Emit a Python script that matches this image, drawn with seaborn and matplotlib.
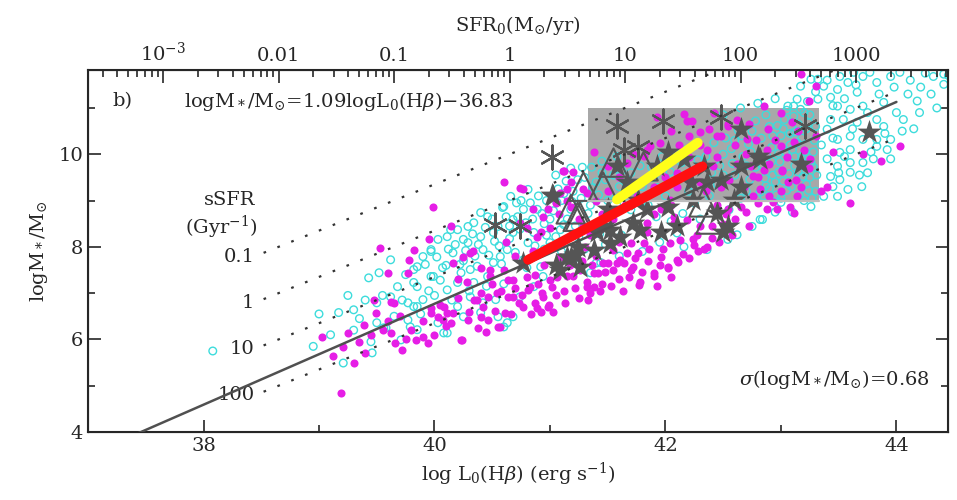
import numpy as np
import pandas as pd
import matplotlib.pyplot as plt
import matplotlib.ticker as mticker
from matplotlib.patches import Rectangle
import seaborn as sns

sns.set_style("ticks")
plt.rcParams["font.family"] = ["DejaVu Serif"]
plt.rcParams["mathtext.fontset"] = "dejavuserif"

# ---- data: (log L0(Hb), log M*) ----
magenta_pts = [
    (39.19, 4.84), (39.03, 6.06), (39.21, 5.84), (39.30, 5.49), (39.25, 6.14), (39.39, 6.32),
    (39.49, 6.58), (39.53, 7.98), (39.60, 7.44), (39.65, 6.79), (39.62, 6.14), (39.66, 5.93),
    (39.72, 5.77), (39.82, 7.94), (39.77, 7.44), (39.84, 5.99), (39.94, 5.93), (39.99, 8.85),
    (39.97, 6.58), (40.03, 6.49), (40.08, 6.71), (40.14, 6.36), (40.16, 6.58), (40.23, 5.99),
    (40.14, 8.44), (40.25, 7.79), (40.31, 7.87), (40.34, 6.86), (40.40, 6.49), (40.46, 6.92),
    (40.48, 7.36), (40.55, 6.27), (40.60, 9.39), (40.64, 6.92), (40.68, 7.29), (40.73, 6.79),
    (40.77, 9.24), (40.81, 7.07), (40.87, 6.79), (40.89, 8.22), (40.94, 8.65), (40.98, 6.71),
    (41.00, 7.29), (41.12, 9.63), (41.15, 9.24), (39.62, 6.81), (39.78, 7.72), (39.95, 8.16),
    (39.97, 6.68), (40.07, 6.42), (40.11, 6.58), (40.16, 7.66), (40.24, 5.99), (40.29, 6.42),
    (40.33, 7.90), (40.37, 6.86), (40.42, 6.71), (40.46, 6.42), (40.48, 7.51), (40.54, 7.01),
    (40.57, 6.27), (40.61, 6.58), (40.64, 7.29), (40.68, 6.92), (40.74, 8.52), (40.77, 6.71),
    (40.83, 7.14), (40.87, 7.40), (40.89, 6.68), (40.94, 6.92), (40.98, 8.81), (40.99, 6.75),
    (41.02, 7.14), (41.09, 7.79), (41.15, 7.36), (41.26, 7.51), (41.32, 7.23), (41.38, 7.14),
    (41.42, 7.44), (41.50, 7.66), (41.55, 7.94), (41.61, 7.72), (41.67, 7.87), (41.72, 7.57),
    (41.77, 7.18), (41.81, 8.09), (41.90, 7.36), (41.96, 7.79), (42.02, 7.55), (42.04, 8.09),
    (42.10, 7.72), (42.07, 8.52), (41.84, 8.52), (42.16, 10.86), (42.23, 10.71), (41.93, 10.80),
    (42.30, 10.47), (42.45, 10.39), (42.54, 10.65), (42.72, 10.65), (42.71, 10.32), (42.89, 10.54),
    (43.10, 10.69), (42.85, 9.67), (43.01, 9.67), (43.13, 9.45), (43.14, 9.09), (43.08, 8.87),
    (42.97, 8.81), (42.88, 8.81), (42.76, 9.09), (42.68, 9.30), (42.76, 9.52), (42.59, 9.02),
    (42.54, 8.81), (42.48, 9.30), (42.41, 9.74), (42.36, 10.10), (42.45, 9.93), (42.19, 9.52),
    (42.10, 9.30), (42.04, 9.02), (41.96, 8.81), (42.07, 8.65), (42.19, 8.59), (42.30, 8.44),
    (42.24, 8.16), (42.36, 8.00), (42.28, 7.90), (42.11, 7.68), (42.02, 7.57), (41.90, 7.44),
    (41.78, 7.23), (41.76, 7.87), (41.70, 8.09), (41.64, 7.66), (41.55, 7.51), (41.46, 7.66),
    (41.38, 7.44), (41.32, 7.14), (41.20, 7.36), (41.84, 8.31), (41.87, 10.17), (41.81, 9.96),
    (41.67, 9.82), (41.38, 10.04), (41.20, 9.61), (41.29, 9.24), (42.88, 10.10), (43.00, 10.17),
    (43.11, 10.26), (43.11, 8.74), (43.17, 9.30), (43.17, 11.73), (43.30, 11.47), (43.24, 11.14),
    (43.45, 10.04), (43.40, 9.30), (43.71, 10.00), (44.03, 10.17), (42.93, 8.96), (43.24, 9.71),
    (43.19, 9.78), (43.01, 9.63), (43.06, 9.39), (42.80, 9.50), (42.74, 9.74), (42.48, 10.39),
    (42.54, 10.60), (42.42, 10.90), (42.19, 10.71), (40.74, 9.28), (41.11, 9.63), (41.18, 9.39),
    (41.09, 9.17), (40.85, 8.81), (40.92, 8.31), (41.18, 8.87), (41.29, 8.44), (41.32, 9.17),
    (41.84, 10.10), (41.05, 6.95), (41.12, 7.05), (41.25, 6.90), (41.35, 7.00), (41.45, 7.20),
    (41.60, 7.30), (41.70, 7.50), (41.85, 7.70), (41.95, 7.60), (42.15, 7.85), (42.25, 8.05),
    (42.40, 8.20), (42.50, 8.50), (42.60, 8.60), (42.70, 8.75), (42.80, 8.95), (42.90, 9.10),
    (43.00, 9.20), (41.10, 8.10), (41.20, 8.30), (41.30, 8.00), (41.40, 7.80), (41.55, 8.60),
    (41.65, 8.90), (41.75, 9.10), (41.90, 9.30), (42.00, 9.50), (42.10, 9.60), (42.20, 9.95),
    (42.30, 10.20), (42.35, 9.20), (42.45, 8.90), (42.55, 9.45), (42.62, 9.80), (42.70, 10.00),
    (42.78, 10.30), (40.95, 7.60), (40.85, 7.90), (40.70, 7.80), (40.60, 7.50), (40.50, 7.20),
    (40.40, 7.00), (40.30, 6.60), (40.20, 6.90), (40.10, 6.30), (40.00, 6.10), (39.90, 6.40),
    (39.80, 6.20), (39.70, 6.50), (39.60, 6.40), (39.45, 6.10), (39.35, 5.95), (41.00, 8.40),
    (41.08, 8.70), (41.15, 9.00), (41.25, 8.60), (41.40, 9.00), (41.50, 9.20), (41.60, 9.50),
    (42.05, 10.50), (42.20, 10.40), (42.60, 10.20), (42.90, 9.80), (43.05, 9.95), (43.20, 10.10),
    (43.30, 10.40), (43.35, 9.20), (43.00, 10.90), (42.85, 11.05), (43.87, 9.85), (43.60, 8.95),
    (40.52, 6.62), (40.58, 7.05), (40.66, 6.55), (40.70, 7.10), (40.76, 6.95), (40.80, 7.35),
    (40.84, 6.55), (40.90, 7.20), (40.93, 7.00), (40.92, 6.60), (41.03, 6.60), (41.06, 7.35),
    (41.13, 6.78), (41.17, 7.60), (41.22, 7.12), (41.28, 7.70), (41.33, 6.85), (41.36, 7.60),
    (41.43, 7.05), (41.48, 7.45), (41.53, 7.15), (41.58, 7.65), (41.63, 7.05), (41.68, 7.35),
    (41.74, 7.75), (41.80, 7.45), (41.86, 7.95), (41.93, 7.15), (41.98, 7.95), (42.05, 7.35),
    (42.13, 8.15), (42.20, 7.75), (42.27, 8.25), (42.33, 7.95), (42.40, 8.45), (42.46, 8.10),
    (42.52, 8.70), (42.58, 8.25), (42.65, 8.85), (42.72, 8.45), (42.82, 9.25), (41.50, 9.75),
    (41.72, 10.00), (41.95, 10.25), (42.12, 10.20), (42.38, 10.55), (42.62, 10.75), (42.95, 10.30),
    (43.15, 10.50), (43.25, 9.90), (42.05, 8.90), (42.30, 9.40), (41.90, 8.70), (41.60, 8.10),
    (41.45, 8.70), (41.70, 9.30), (40.20, 7.30), (40.05, 6.75), (39.90, 6.05), (39.75, 6.00),
    (39.55, 6.20), (39.40, 5.70), (40.38, 6.25), (40.45, 6.15), (39.12, 5.65), (39.48, 6.85),
    (40.62, 8.10), (40.80, 8.40), (41.05, 8.95), (40.40, 7.55), (40.28, 7.25), (41.35, 8.25),
]

cyan_pts = [
    (38.08, 5.75), (39.17, 6.58), (39.30, 6.64), (39.21, 5.49), (39.46, 5.71), (39.43, 7.33),
    (39.52, 7.44), (39.50, 6.79), (39.56, 6.25), (39.62, 7.72), (39.68, 7.14), (39.71, 5.99),
    (39.77, 6.79), (39.82, 7.23), (39.85, 7.57), (39.85, 6.21), (39.90, 7.79), (39.97, 7.94),
    (39.97, 7.36), (40.03, 8.16), (40.07, 7.55), (40.14, 8.37), (40.16, 7.87), (40.20, 7.23),
    (40.25, 8.16), (40.29, 8.44), (40.31, 7.51), (40.40, 8.22), (40.42, 7.94), (40.46, 8.65),
    (40.51, 7.66), (40.55, 8.44), (40.59, 8.85), (40.63, 7.94), (40.66, 9.09), (40.68, 8.31),
    (40.72, 8.65), (40.77, 7.72), (40.81, 9.24), (40.86, 8.31), (40.89, 8.81), (40.94, 7.36),
    (40.63, 6.36), (40.55, 6.49), (40.42, 6.79), (40.31, 6.92), (40.20, 6.71), (40.08, 6.14),
    (40.03, 6.36), (39.85, 6.71), (39.77, 6.42), (39.50, 6.36), (39.62, 6.92), (41.06, 8.96),
    (41.00, 8.00), (39.58, 6.25), (39.82, 7.51), (39.85, 7.14), (39.97, 7.90), (40.11, 8.22),
    (40.20, 8.37), (40.29, 8.09), (40.34, 8.52), (40.40, 8.74), (40.51, 8.31), (40.60, 8.87),
    (40.68, 8.59), (40.77, 8.81), (40.81, 8.09), (40.57, 7.79), (40.46, 7.36), (40.34, 7.23),
    (40.23, 7.44), (40.11, 7.07), (39.99, 7.36), (39.90, 6.86), (39.82, 6.71), (39.79, 6.27),
    (40.11, 6.14), (40.25, 6.49), (40.40, 6.58), (40.53, 6.86), (40.60, 6.27), (40.68, 6.49),
    (40.74, 6.92), (40.86, 7.14), (40.92, 7.57), (41.00, 8.09), (41.09, 8.37), (41.18, 8.81),
    (41.35, 7.44), (41.44, 7.66), (42.62, 8.26), (42.54, 8.16), (42.36, 7.94), (42.16, 8.00),
    (42.84, 8.59), (42.75, 8.44), (43.00, 8.96), (43.11, 10.82), (43.17, 10.97), (43.06, 11.04),
    (43.14, 11.19), (43.23, 11.14), (43.32, 11.19), (43.37, 11.47), (43.32, 11.62), (43.43, 11.23),
    (43.49, 11.40), (43.51, 11.68), (43.58, 11.55), (43.63, 11.77), (43.66, 11.34), (43.71, 11.68),
    (43.77, 11.77), (43.83, 11.55), (43.89, 11.12), (43.95, 11.68), (44.03, 11.77), (44.06, 10.75),
    (44.21, 11.45), (44.32, 11.68), (44.41, 11.73), (44.41, 11.51), (43.49, 11.04), (43.60, 10.97),
    (43.71, 11.04), (43.54, 10.75), (43.66, 10.69), (43.83, 10.75), (43.89, 10.60), (43.43, 10.75),
    (43.40, 10.54), (43.49, 10.32), (43.60, 10.39), (43.71, 10.32), (43.83, 10.32), (43.95, 10.32),
    (43.60, 10.10), (43.51, 10.04), (43.83, 10.17), (43.92, 10.10), (43.49, 9.74), (43.60, 9.82),
    (43.71, 9.82), (43.43, 9.52), (43.51, 9.45), (43.60, 9.61), (43.45, 9.30), (43.58, 9.24),
    (43.37, 9.09), (43.49, 9.09), (43.26, 8.87), (42.82, 8.59), (43.17, 11.47), (43.26, 11.62),
    (43.11, 11.04), (43.20, 10.90), (41.00, 8.60), (41.10, 9.00), (41.20, 9.20), (41.30, 9.50),
    (41.35, 8.90), (41.45, 9.60), (41.50, 9.00), (41.60, 9.30), (41.70, 9.60), (41.80, 9.30),
    (41.90, 9.50), (42.00, 9.80), (42.10, 10.00), (41.15, 8.60), (41.25, 8.20), (41.40, 8.50),
    (41.55, 8.70), (41.70, 8.80), (41.85, 8.90), (42.00, 9.10), (42.20, 9.20), (42.40, 9.60),
    (42.50, 10.00), (42.60, 10.30), (42.75, 10.50), (42.90, 10.60), (43.00, 10.40), (43.10, 10.10),
    (43.20, 9.80), (43.25, 9.50), (43.30, 9.20), (42.95, 9.40), (42.85, 9.10), (42.70, 9.20),
    (42.55, 8.80), (42.30, 8.60), (42.10, 8.30), (41.95, 8.10), (41.80, 7.90), (41.60, 7.80),
    (41.40, 7.65), (41.20, 7.70), (40.95, 8.50), (40.85, 8.60), (40.75, 9.00), (40.65, 8.45),
    (40.50, 8.60), (40.35, 7.80), (40.25, 7.70), (40.10, 7.60), (39.95, 7.05), (39.75, 7.40),
    (39.65, 6.50), (39.40, 6.85), (39.30, 6.20), (39.10, 6.10), (39.00, 6.55), (38.95, 5.85),
    (43.15, 10.65), (43.25, 10.85), (43.05, 10.95), (42.95, 11.20), (42.80, 11.10), (42.65, 11.00),
    (42.50, 10.85), (43.35, 10.20), (43.40, 9.90), (43.50, 9.60), (43.30, 11.35), (43.40, 11.60),
    (44.10, 11.30), (44.20, 10.90), (44.00, 10.90), (43.90, 10.45), (44.25, 11.75), (44.45, 11.70),
    (43.70, 9.30), (43.75, 9.60), (43.80, 9.90), (43.95, 9.90), (44.05, 10.50), (44.15, 10.55),
    (39.92, 7.62), (40.02, 7.78), (40.05, 7.28), (40.12, 7.95), (40.18, 8.05), (40.22, 7.62),
    (40.27, 7.92), (40.33, 8.28), (40.37, 7.58), (40.38, 8.05), (40.44, 8.42), (40.47, 7.82),
    (40.52, 8.12), (40.56, 8.02), (40.58, 7.63), (40.62, 8.65), (40.65, 8.18), (40.70, 7.88),
    (40.71, 8.95), (40.74, 8.38), (40.79, 8.52), (40.83, 8.95), (40.87, 8.02), (40.90, 9.10),
    (40.93, 8.72), (40.97, 8.25), (41.03, 8.78), (41.05, 8.22), (41.07, 9.25), (41.12, 8.48),
    (41.14, 9.42), (41.19, 8.98), (41.22, 8.45), (41.27, 9.05), (41.28, 9.72), (41.33, 8.72),
    (41.37, 9.28), (41.42, 9.12), (41.43, 8.28), (41.48, 9.45), (41.52, 8.55), (41.57, 9.05),
    (41.62, 9.65), (41.64, 8.95), (41.68, 9.42), (41.73, 9.22), (41.78, 9.75), (41.83, 9.05),
    (41.88, 9.72), (41.93, 9.28), (41.97, 9.95), (42.04, 9.62), (42.08, 9.38), (42.14, 9.82),
    (42.18, 10.10), (42.24, 9.62), (42.28, 9.88), (42.35, 9.95), (42.42, 10.25), (42.47, 9.75),
    (42.52, 10.35), (42.57, 10.12), (42.63, 10.52), (42.67, 9.95), (42.72, 10.22), (42.78, 10.72),
    (42.83, 10.35), (42.87, 10.85), (42.92, 10.15), (42.97, 10.62), (43.03, 10.75), (43.08, 10.45),
    (43.12, 9.95), (43.18, 10.35), (43.22, 10.55), (43.28, 10.05), (43.28, 9.72), (43.22, 9.35),
    (43.15, 9.62), (43.05, 9.22), (42.98, 9.62), (42.92, 9.85), (42.87, 9.32), (42.78, 9.72),
    (42.73, 9.45), (42.65, 9.05), (42.60, 9.55), (42.45, 9.35), (42.38, 9.10), (42.25, 8.95),
    (42.15, 8.72), (42.05, 8.55), (41.92, 8.65), (41.75, 8.45), (41.62, 8.25), (41.48, 8.05),
    (41.30, 7.95), (41.10, 7.90), (40.95, 7.95), (40.80, 7.55), (40.60, 7.20), (40.45, 7.15),
    (40.30, 7.05), (40.15, 6.85), (40.00, 6.95), (39.88, 6.55), (39.72, 6.85), (39.55, 6.95),
    (39.35, 6.45), (39.25, 6.95), (39.45, 5.95), (43.45, 11.05), (43.55, 11.20), (43.62, 10.55),
    (43.75, 10.90), (43.85, 11.30), (43.98, 11.45), (44.12, 11.60), (44.18, 11.15), (44.30, 11.30),
    (44.35, 11.00), (43.78, 10.05), (43.68, 9.55), (43.55, 9.95), (43.45, 10.35), (43.65, 11.50),
    (43.10, 8.75), (43.20, 9.00), (42.95, 8.75),
    # dense part inside the grey box
    (42.82, 9.18), (42.86, 9.48), (42.90, 9.26), (42.93, 9.55), (42.96, 9.12), (42.99, 9.84),
    (43.02, 9.42), (43.04, 10.05), (43.07, 9.58), (43.09, 9.30), (43.12, 9.75), (43.14, 10.25),
    (43.16, 9.12), (43.19, 9.52), (43.21, 10.05), (43.24, 9.22), (43.26, 9.82), (43.29, 10.30),
    (43.31, 9.55), (43.18, 9.95), (43.08, 10.20), (42.98, 10.02), (42.88, 9.95), (42.83, 9.78),
    (42.93, 10.40), (43.02, 10.55), (43.12, 10.48), (43.24, 10.68), (43.30, 10.60), (42.70, 9.75),
    (42.74, 10.05), (42.66, 10.40), (42.58, 9.80), (42.50, 9.55), (43.00, 9.05), (43.27, 9.05),
    (41.40, 9.40), (41.36, 9.72), (41.24, 9.45), (41.12, 9.15), (41.05, 9.55), (40.97, 9.00),
    (41.18, 9.70), (41.45, 9.85), (41.55, 9.55), (41.58, 9.95),
]

star_pts = [
    (41.02, 9.13), (41.03, 9.09), (41.09, 7.51), (41.15, 7.79), (41.24, 8.00), (41.41, 8.31),
    (41.52, 8.37), (41.61, 8.22), (41.72, 8.52), (41.50, 8.81), (41.84, 8.81), (42.65, 10.54),
    (42.80, 9.96), (42.65, 9.74), (42.48, 9.45), (42.65, 9.30), (42.59, 9.02), (42.50, 8.33),
    (42.45, 8.74), (42.24, 9.02), (42.22, 9.39), (42.02, 8.87), (42.10, 8.44), (41.96, 8.31),
    (41.78, 8.37), (41.76, 9.02), (41.67, 9.39), (41.58, 9.74), (41.52, 8.09), (41.38, 7.94),
    (41.26, 7.57), (41.18, 7.79), (41.46, 8.44), (42.02, 10.04), (41.93, 9.74), (42.16, 9.89),
    (42.33, 9.74), (42.36, 9.39), (42.82, 9.89), (43.76, 10.47), (42.54, 8.44), (43.17, 9.78),
    (41.05, 7.61), (41.22, 7.83), (40.77, 7.66),
]

asterisk_pts = [
    (41.02, 9.93), (40.74, 8.44), (41.58, 10.60), (41.64, 10.10), (41.76, 10.15),
    (41.98, 10.71), (42.48, 10.80), (43.21, 10.60), (40.52, 8.48),
]

triangle_pts = [
    (41.29, 9.30), (41.26, 8.65), (41.55, 9.82), (41.81, 9.74), (41.46, 9.30),
    (42.33, 8.96), (42.39, 8.59), (41.18, 8.81), (41.24, 8.65),
]

# fit and reference relations
fit_slope, fit_icpt = 1.09, -36.83
fit_range = [37.4, 44.0]
sfr_offset = 40.65          # log SFR0 = log L0(Hb) - 40.65
ssfr_values = [0.1, 1, 10, 100]
ssfr_labels = ["0.1", "1", "10", "100"]
ssfr_range = [38.52, 44.0]

red_x, red_y = [40.81, 42.32], [7.72, 9.74]
yellow_x, yellow_y = [41.58, 42.28], [9.02, 10.25]
box_x, box_y = [41.33, 43.33], [9.0, 11.0]

sfr_ticks = [1e-3, 1e-2, 1e-1, 1, 10, 100, 1000]
sfr_ticklabels = ["10$^{-3}$", "0.01", "0.1", "1", "10", "100", "1000"]

mag = pd.DataFrame(magenta_pts, columns=["logL", "logM"])
cya = pd.DataFrame(cyan_pts, columns=["logL", "logM"])
sta = pd.DataFrame(star_pts, columns=["logL", "logM"])
ast = pd.DataFrame(asterisk_pts, columns=["logL", "logM"])
tri = pd.DataFrame(triangle_pts, columns=["logL", "logM"])

fig, ax = plt.subplots(figsize=(9.57, 5.0), dpi=100)
fig.subplots_adjust(left=0.092, right=0.991, bottom=0.136, top=0.86)

xmin, xmax = 37.0, 44.45
ymin, ymax = 4.0, 11.82

# grey box
ax.add_patch(Rectangle((box_x[0], box_y[0]), box_x[1] - box_x[0], box_y[1] - box_y[0],
                       facecolor="#a8a8a8", edgecolor="none", zorder=1))

sns.scatterplot(data=cya, x="logL", y="logM", ax=ax, marker="o", s=30,
                facecolor="none", edgecolor="#3ddcdc", linewidth=1.0, zorder=2)
sns.scatterplot(data=mag, x="logL", y="logM", ax=ax, marker="o", s=34,
                color="#e61ee6", linewidth=0, zorder=3)
sns.scatterplot(data=sta, x="logL", y="logM", ax=ax, marker="*", s=330,
                color="#555555", linewidth=0, zorder=4)
sns.scatterplot(data=tri, x="logL", y="logM", ax=ax, marker="^", s=420,
                facecolor="none", edgecolor="#555555", linewidth=1.5, zorder=4.5)
sns.scatterplot(data=ast, x="logL", y="logM", ax=ax, marker=(6, 2, 0), s=300,
                color="#555555", edgecolor="#555555", linewidth=1.6, zorder=4.5)

# box bottom edge
ax.plot(box_x, [box_y[0], box_y[0]], color="#bdbdbd", lw=1.6, zorder=4.6)

# sSFR lines
for v, lab in zip(ssfr_values, ssfr_labels):
    xs = np.array(ssfr_range)
    ys = xs - sfr_offset + 9 - np.log10(v)
    sns.lineplot(x=xs, y=ys, ax=ax, color="#333333", lw=1.6,
                 linestyle=(0, (1.2, 5.5)), zorder=5)
    ax.text(ssfr_range[0] - 0.08, ys[0] - 0.08, lab, ha="right", va="center", fontsize=14)

# fit line
fx = np.array(fit_range)
sns.lineplot(x=fx, y=fit_slope * fx + fit_icpt, ax=ax, color="#505050", lw=1.8, zorder=5)

# red and yellow segments
sns.lineplot(x=red_x, y=red_y, ax=ax, color="#ff1010", lw=7, zorder=6,
             solid_capstyle="round")
sns.lineplot(x=yellow_x, y=yellow_y, ax=ax, color="#ffff1a", lw=7, zorder=6,
             solid_capstyle="round")

ax.set_xlim(xmin, xmax)
ax.set_ylim(ymin, ymax)

ax.text(37.21, 11.14, "b)", ha="left", va="center", fontsize=14)
ax.text(37.83, 11.14, r"logM$_*$/M$_{\odot}$=1.09logL$_0$(H$\beta$)$-$36.83",
        ha="left", va="center", fontsize=14)
ax.text(44.29, 5.13, r"$\sigma$(logM$_*$/M$_{\odot}$)=0.68", ha="right", va="center", fontsize=14)
ax.text(38.45, 9.02, "sSFR", ha="right", va="center", fontsize=14)
ax.text(38.47, 8.42, r"(Gyr$^{-1}$)", ha="right", va="center", fontsize=14)

ax.set_xlabel(r"log L$_0$(H$\beta$) (erg s$^{-1}$)", fontsize=14, labelpad=4)
ax.set_ylabel(r"logM$_*$/M$_{\odot}$", fontsize=14, labelpad=6)

ax.xaxis.set_major_locator(mticker.MultipleLocator(2))
ax.xaxis.set_minor_locator(mticker.MultipleLocator(1))
ax.yaxis.set_major_locator(mticker.MultipleLocator(2))
ax.yaxis.set_minor_locator(mticker.MultipleLocator(1))
ax.tick_params(which="both", direction="in", top=False, right=True, labelsize=14, width=1.2)
ax.tick_params(which="major", length=9)
ax.tick_params(which="minor", length=5)
for sp in ax.spines.values():
    sp.set_linewidth(1.5)
    sp.set_visible(True)

# top axis: SFR0
ax2 = ax.twiny()
ax2.set_xscale("log")
ax2.set_xlim(10 ** (xmin - sfr_offset), 10 ** (xmax - sfr_offset))
ax2.xaxis.set_major_locator(mticker.FixedLocator(sfr_ticks))
ax2.xaxis.set_major_formatter(mticker.FixedFormatter(sfr_ticklabels))
ax2.xaxis.set_minor_locator(mticker.LogLocator(base=10, subs=np.arange(2, 10), numticks=20))
ax2.xaxis.set_minor_formatter(mticker.NullFormatter())
ax2.tick_params(which="both", direction="in", labelsize=14, width=1.2)
ax2.tick_params(which="major", length=9)
ax2.tick_params(which="minor", length=5)
ax2.set_xlabel(r"SFR$_0$(M$_{\odot}$/yr)", fontsize=14, labelpad=8)

fig.savefig("out.png", dpi=100)
